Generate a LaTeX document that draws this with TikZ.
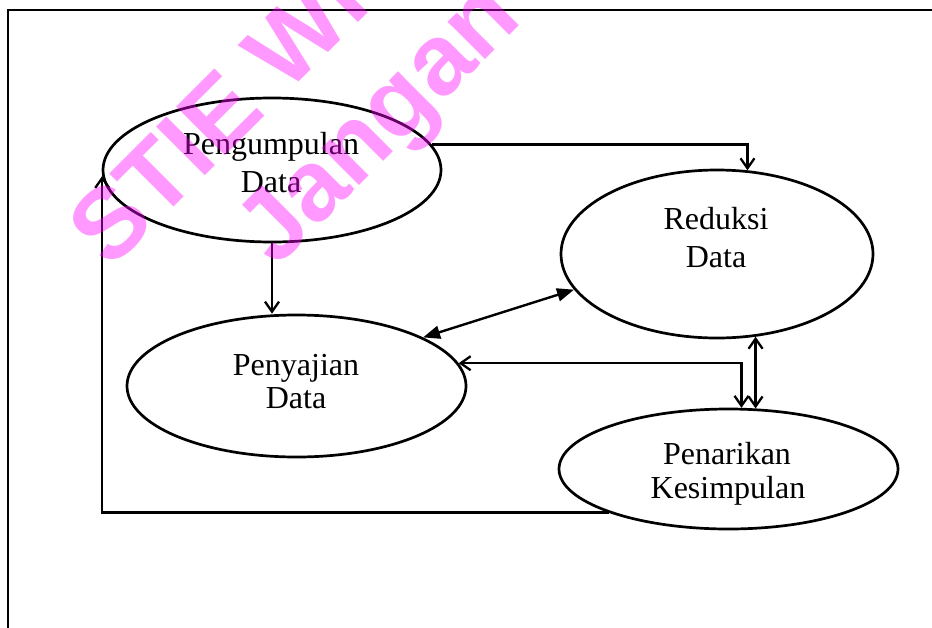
\documentclass[tikz,border=0pt]{standalone}
\usepackage{fontspec}
\setmainfont{Liberation Serif}
\newfontfamily\wmfont{Liberation Sans}
\usetikzlibrary{shapes.geometric,arrows.meta}

\definecolor{wmpink}{RGB}{255,0,255}

\tikzset{
  obarb/.tip={Straight Barb[length=10pt,width=14pt,line width=2.3pt]},
  fhead/.tip={Triangle[length=17pt,width=13pt]},
}

\begin{document}
\begin{tikzpicture}[x=1pt,y=-1pt,
  proc/.style={draw, ellipse, line width=2.7pt, inner sep=0pt},
  lbl/.style={anchor=base, inner sep=0pt, font=\fontsize{32}{38}\selectfont},
  link/.style={line width=2.4pt},
  frame/.style={line width=2.8pt},
  wm/.style={anchor=base west, rotate=45, inner sep=0pt, text=wmpink,
    text opacity=0.4, font=\wmfont\bfseries\fontsize{100}{100}\selectfont},
]
\useasboundingbox (0,0) rectangle (932,627);
\clip (0,0) rectangle (932,627);

% outer frame (runs past the right and bottom edges)
\draw[frame] (8,660) -- (8,10) -- (960,10);

% the four stages
\node[proc, minimum width=338pt, minimum height=144pt] (peng) at (272,170) {};
\node[proc, minimum width=312pt, minimum height=168pt] (red)  at (717,254) {};
\node[proc, minimum width=339pt, minimum height=142pt] (peny) at (296.5,386) {};
\node[proc, minimum width=339pt, minimum height=120pt] (pen)  at (728.5,469) {};

\node[lbl] (peng1) at (271,154) {Pengumpulan};
\node[lbl] (peng2) at (271,192) {Data};
\node[lbl] (red1)  at (716,229) {Reduksi};
\node[lbl] (red2)  at (716,267) {Data};
\node[lbl] (peny1) at (296,375) {Penyajian};
\node[lbl] (peny2) at (296,408) {Data};
\node[lbl] (pen1)  at (727,464) {Penarikan};
\node[lbl] (pen2)  at (728,498) {Kesimpulan};

% connectors
\draw[link, -obarb] (peng.9) -| (red.70.6);
\draw[link, -obarb] (peng.south) -- (peng.south |- peny.north);
\draw[link, fhead-fhead] (peny.21.2) -- (red.194.8);
\draw[link, obarb-obarb] (peny.8.2) -| (pen.78.2);
\draw[link, obarb-obarb] (red.-65.6) -- (red.-65.6 |- pen.66.7);
\draw[link, -obarb] (pen.200) -| (peng.182.7);

% watermark
\node[wm] (wm1) at (110,271) {STIE Widya Wiwaha};
\node[wm] (wm2) at (276,269) {Jangan Plagiat};
\end{tikzpicture}
\end{document}
